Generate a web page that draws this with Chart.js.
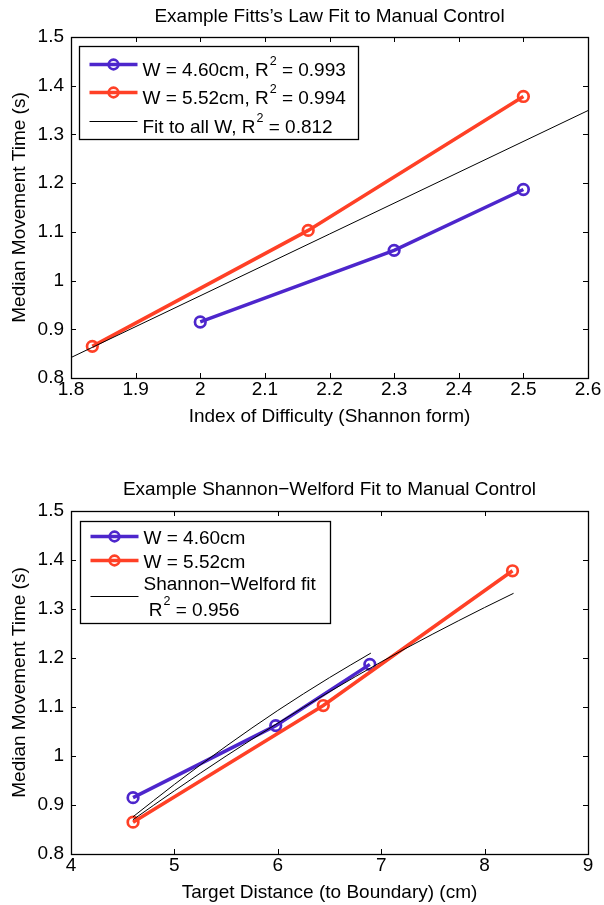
<!DOCTYPE html>
<html>
<head>
<meta charset="utf-8">
<script src="https://cdn.jsdelivr.net/npm/chart.js@4.4.1/dist/chart.umd.min.js"></script>
<style>
  html, body { margin: 0; padding: 0; background: #fff; }
  #wrap { position: relative; width: 604px; height: 905px; }
  .box { position: absolute; left: 0; width: 604px; }
</style>
</head>
<body>
<div id="wrap">
  <div class="box" style="top:0;height:452px"><canvas id="fitts"></canvas></div>
  <div class="box" style="top:452px;height:453px"><canvas id="welford"></canvas></div>
</div>
<script>
// valores
const idBlue = [2.0, 2.3, 2.5];
const idRed = [1.833, 2.167, 2.5];
const mtBlue = [0.915, 1.062, 1.187];
const mtRed = [0.865, 1.103, 1.378];
const fitAllX = [1.8, 2.6];
const fitAllY = [0.842, 1.349];

const distBlue = [4.6, 5.98, 6.89];
const distRed = [4.6, 6.44, 8.27];
const swBlueX = [4.6, 5.0, 5.5, 6.0, 6.5, 6.9];
const swBlueY = [0.876, 0.942, 1.02, 1.093, 1.16, 1.21];
const swRedX = [4.6, 5.0, 5.5, 6.0, 6.5, 7.0, 7.5, 8.0, 8.28];
const swRedY = [0.87, 0.929, 1.0, 1.067, 1.131, 1.192, 1.249, 1.303, 1.332];

const idTicks = [1.8, 1.9, 2, 2.1, 2.2, 2.3, 2.4, 2.5, 2.6];
const distTicks = [4, 5, 6, 7, 8, 9];
const mtTicks = [0.8, 0.9, 1, 1.1, 1.2, 1.3, 1.4, 1.5];

const labelsTop = ['W = 4.60cm, R^2 = 0.993', 'W = 5.52cm, R^2 = 0.994', 'Fit to all W, R^2 = 0.812'];
const labelsBottom = ['W = 4.60cm', 'W = 5.52cm', ['Shannon\u2212Welford fit', ' R^2 = 0.956']];

const AZUL = '#4d26cc';
const VERMELHO = '#ff4026';
const FONTE = '"Liberation Sans", Arial, sans-serif';
const TAM = 19;

// texto com expoente (R^2)
function textoSup(ctx, str, x, y) {
  const partes = str.split('^');
  ctx.font = TAM + 'px ' + FONTE;
  ctx.fillText(partes[0], x, y);
  x += ctx.measureText(partes[0]).width;
  for (let i = 1; i < partes.length; i++) {
    const sup = partes[i][0], resto = partes[i].slice(1);
    ctx.font = '12.5px ' + FONTE;
    ctx.fillText(sup, x + 1, y - 10.5);
    x += ctx.measureText(sup).width + 1;
    ctx.font = TAM + 'px ' + FONTE;
    ctx.fillText(resto, x, y);
    x += ctx.measureText(resto).width;
  }
}

// caixa e ticks para dentro, estilo matlab
const caixaEixos = {
  id: 'caixaEixos',
  afterDatasetsDraw(chart) {
    const { ctx, chartArea: a, scales: { x, y } } = chart;
    ctx.save();
    ctx.strokeStyle = '#000';
    ctx.lineWidth = 1;
    ctx.beginPath();
    x.ticks.forEach(t => {
      const px = Math.round(x.getPixelForValue(t.value)) + 0.5;
      ctx.moveTo(px, a.bottom); ctx.lineTo(px, a.bottom - 5);
      ctx.moveTo(px, a.top); ctx.lineTo(px, a.top + 5);
    });
    y.ticks.forEach(t => {
      const py = Math.round(y.getPixelForValue(t.value)) + 0.5;
      ctx.moveTo(a.left, py); ctx.lineTo(a.left + 5, py);
      ctx.moveTo(a.right, py); ctx.lineTo(a.right - 5, py);
    });
    ctx.stroke();
    ctx.lineWidth = 1.3;
    ctx.strokeRect(Math.round(a.left) + 0.5, Math.round(a.top) + 0.5, Math.round(a.width), Math.round(a.height));
    ctx.restore();
  }
};

// legenda dentro da área do gráfico
const legendaCaixa = {
  id: 'legendaCaixa',
  afterDatasetsDraw(chart, args, opts) {
    const { ctx, chartArea: a } = chart;
    const bx = Math.round(a.left + opts.left) + 0.5, by = Math.round(a.top + opts.top) + 0.5;
    ctx.save();
    ctx.fillStyle = '#fff';
    ctx.fillRect(bx, by, opts.width, opts.height);
    ctx.strokeStyle = '#000';
    ctx.lineWidth = 1.3;
    ctx.strokeRect(bx, by, opts.width, opts.height);
    opts.items.forEach(it => {
      const ds = chart.data.datasets[it.dataset];
      const ly = by + it.lineY;
      ctx.strokeStyle = ds.borderColor;
      ctx.lineWidth = ds.borderWidth;
      ctx.beginPath();
      ctx.moveTo(bx + 10, ly); ctx.lineTo(bx + 58, ly);
      ctx.stroke();
      if (ds.pointRadius > 0) {
        ctx.lineWidth = ds.pointBorderWidth;
        ctx.beginPath();
        ctx.arc(bx + 34, ly, 4.8, 0, Math.PI * 2);
        ctx.stroke();
      }
      ctx.fillStyle = '#000';
      ctx.textBaseline = 'alphabetic';
      const linhas = Array.isArray(ds.label) ? ds.label : [ds.label];
      linhas.forEach((txt, i) => textoSup(ctx, txt, bx + opts.textX, by + it.textY[i]));
    });
    ctx.restore();
  }
};

function serie(xs, ys, cor, label, order) {
  return {
    label, order,
    data: xs.map((x, i) => ({ x, y: ys[i] })),
    showLine: true,
    borderColor: cor,
    backgroundColor: 'rgba(0,0,0,0)',
    borderWidth: 3.5,
    pointRadius: 5.3,
    pointHoverRadius: 5.3,
    pointBorderWidth: 2.7,
    pointBorderColor: cor,
    pointBackgroundColor: 'rgba(0,0,0,0)'
  };
}

function ajuste(xs, ys, label) {
  return {
    label, order: 1,
    data: xs.map((x, i) => ({ x, y: ys[i] })),
    showLine: true,
    borderColor: '#000',
    borderWidth: 1,
    pointRadius: 0,
    cubicInterpolationMode: 'monotone'
  };
}

function eixo(min, max, ticks, titulo, extra) {
  return Object.assign({
    type: 'linear', min, max,
    afterBuildTicks: s => { s.ticks = ticks.map(v => ({ value: v })); },
    grid: { display: false, drawTicks: false },
    border: { display: false },
    ticks: { color: '#000', font: { family: FONTE, size: TAM }, autoSkip: false, maxRotation: 0, callback: v => String(v) },
    title: { display: true, text: titulo, color: '#000', font: { family: FONTE, size: TAM } }
  }, extra);
}

function montarGrafico(id, datasets, cfg) {
  const x = eixo(cfg.xMin, cfg.xMax, cfg.xTicks, cfg.xTitulo, { afterFit: s => { s.height = 50; } });
  x.ticks.padding = 0;
  x.title.padding = { top: 0, bottom: 0 };
  const y = eixo(0.8, 1.5, mtTicks, 'Median Movement Time (s)', { afterFit: s => { s.width = 71; } });
  y.ticks.padding = 7;
  y.title.padding = { top: 8.5, bottom: 0 };
  return new Chart(document.getElementById(id), {
    type: 'scatter',
    data: { datasets },
    options: {
      responsive: true,
      maintainAspectRatio: false,
      animation: false,
      devicePixelRatio: 1,
      events: [],
      layout: { padding: { left: 0, right: 16, top: 0, bottom: cfg.padBottom } },
      scales: { x, y },
      plugins: {
        legend: { display: false },
        tooltip: { enabled: false },
        title: {
          display: true, text: cfg.titulo, color: '#000', fullSize: false,
          font: { family: FONTE, size: TAM, weight: 'normal' },
          padding: cfg.titlePad
        },
        legendaCaixa: cfg.legenda
      }
    },
    plugins: [caixaEixos, legendaCaixa]
  });
}

montarGrafico('fitts', [
  serie(idBlue, mtBlue, AZUL, labelsTop[0], 3),
  serie(idRed, mtRed, VERMELHO, labelsTop[1], 2),
  ajuste(fitAllX, fitAllY, labelsTop[2])
], {
  titulo: "Example Fitts\u2019s Law Fit to Manual Control",
  xTitulo: 'Index of Difficulty (Shannon form)',
  xMin: 1.8, xMax: 2.6, xTicks: idTicks,
  padBottom: 24,
  titlePad: { top: 5, bottom: 9.2 },
  legenda: {
    left: 8, top: 9, width: 279, height: 93, textX: 63,
    items: [
      { dataset: 0, lineY: 18, textY: [29] },
      { dataset: 1, lineY: 46, textY: [57] },
      { dataset: 2, lineY: 75, textY: [86] }
    ]
  }
});

montarGrafico('welford', [
  serie(distBlue, mtBlue, AZUL, labelsBottom[0], 3),
  serie(distRed, mtRed, VERMELHO, labelsBottom[1], 2),
  ajuste(swBlueX, swBlueY, labelsBottom[2]),
  ajuste(swRedX, swRedY, '')
], {
  titulo: 'Example Shannon\u2212Welford Fit to Manual Control',
  xTitulo: 'Target Distance (to Boundary) (cm)',
  xMin: 4, xMax: 9, xTicks: distTicks,
  padBottom: 1,
  titlePad: { top: 26.6, bottom: 9.6 },
  legenda: {
    left: 9, top: 10, width: 250, height: 102, textX: 63,
    items: [
      { dataset: 0, lineY: 15, textY: [22] },
      { dataset: 1, lineY: 39, textY: [46] },
      { dataset: 2, lineY: 75, textY: [68.5, 94] }
    ]
  }
});
</script>
</body>
</html>
